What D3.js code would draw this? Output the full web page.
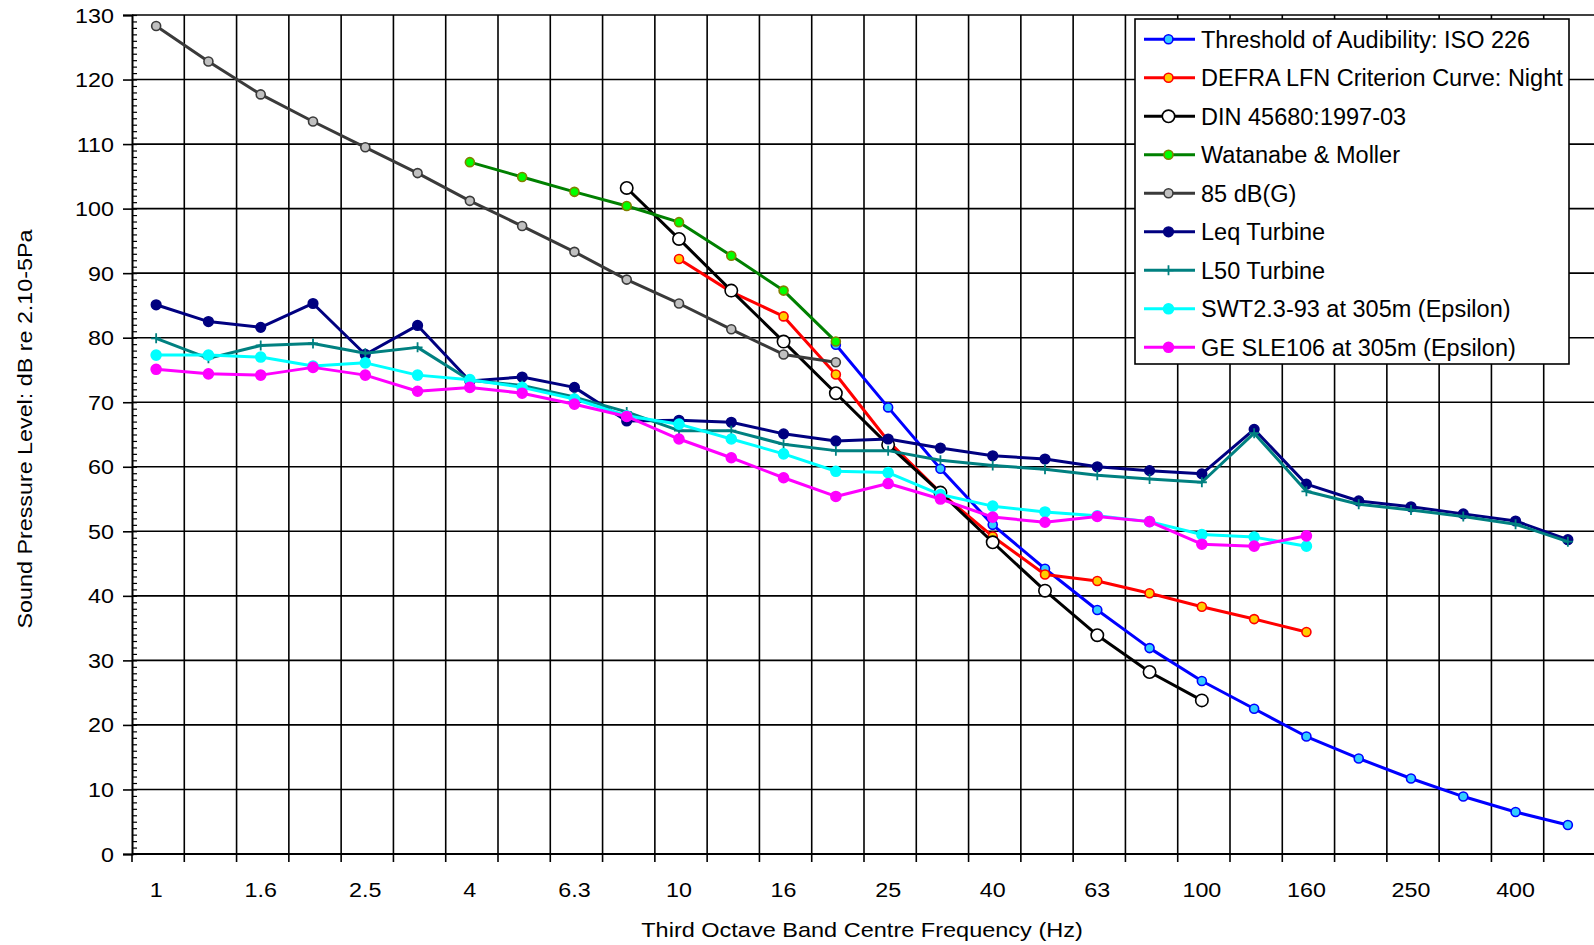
<!DOCTYPE html>
<html><head><meta charset="utf-8">
<script src="https://cdn.jsdelivr.net/npm/d3@7/dist/d3.min.js"></script>
<style>
html,body{margin:0;padding:0;background:#fff;}
svg{display:block;font-family:"Liberation Sans",Arial,sans-serif;}
</style></head><body>
<svg id="chart" width="1594" height="945"></svg>
<script>
const categories = ["1","1.25","1.6","2","2.5","3.15","4","5","6.3","8","10","12.5","16","20","25","31.5","40","50","63","80","100","125","160","200","250","315","400","500"];
const tickLabels = ["1","1.6","2.5","4","6.3","10","16","25","40","63","100","160","250","400"];
const yTicks = [0,10,20,30,40,50,60,70,80,90,100,110,120,130];
const _ = null;
const iso226   = [_,_,_,_,_,_,_,_,_,_,_,_,_,78.9,69.2,59.7,51.0,44.2,37.8,31.9,26.8,22.5,18.2,14.8,11.7,8.9,6.5,4.5];
const defra    = [_,_,_,_,_,_,_,_,_,_,92.2,87.1,83.3,74.3,64.0,56.0,49.2,43.3,42.3,40.4,38.3,36.4,34.4,_,_,_,_,_];
const din45680 = [_,_,_,_,_,_,_,_,_,103.2,95.3,87.3,79.4,71.4,63.4,56.0,48.3,40.8,33.9,28.2,23.8,_,_,_,_,_,_,_];
const watanabe = [_,_,_,_,_,_,107.2,104.9,102.6,100.4,97.9,92.7,87.3,79.4,_,_,_,_,_,_,_,_,_,_,_,_,_,_];
const dbg85    = [128.3,122.8,117.7,113.5,109.5,105.5,101.2,97.3,93.3,89.0,85.3,81.3,77.4,76.2,_,_,_,_,_,_,_,_,_,_,_,_,_,_];
const leq      = [85.1,82.5,81.6,85.3,77.4,81.9,73.3,73.9,72.3,67.1,67.2,66.9,65.1,64.0,64.3,62.9,61.7,61.2,60.0,59.4,58.9,65.8,57.3,54.7,53.8,52.7,51.6,48.7];
const l50      = [79.9,76.8,78.8,79.1,77.6,78.5,73.4,72.6,70.8,68.5,65.6,65.6,63.5,62.5,62.5,61.0,60.2,59.6,58.7,58.1,57.6,65.2,56.2,54.2,53.3,52.3,51.1,48.4];
const swt      = [77.3,77.3,77.0,75.6,76.1,74.2,73.5,72.3,70.5,67.9,66.6,64.3,62.0,59.3,59.1,55.7,53.9,53.0,52.4,51.5,49.5,49.1,47.7,_,_,_,_,_];
const ge       = [75.1,74.4,74.2,75.4,74.2,71.7,72.3,71.4,69.7,67.8,64.3,61.4,58.3,55.4,57.4,55.0,52.2,51.4,52.3,51.5,48.0,47.7,49.3,_,_,_,_,_];

const series = [
  {name:"Threshold of Audibility: ISO 226", data:iso226, line:"#0000FF", fill:"#33CCFF", stroke:"#0000FF", r:4.5, shape:"circle"},
  {name:"DEFRA LFN Criterion Curve: Night", data:defra, line:"#FF0000", fill:"#FFCC00", stroke:"#FF0000", r:4.5, shape:"circle"},
  {name:"DIN 45680:1997-03", data:din45680, line:"#000000", fill:"#FFFFFF", stroke:"#000000", r:6.2, shape:"circle"},
  {name:"Watanabe & Moller", data:watanabe, line:"#008000", fill:"#00FF00", stroke:"#808000", r:4.5, shape:"circle"},
  {name:"85 dB(G)", data:dbg85, line:"#3A3A3A", fill:"#C0C0C0", stroke:"#3A3A3A", r:4.5, shape:"circle"},
  {name:"Leq Turbine", data:leq, line:"#000080", fill:"#000080", stroke:"#000080", r:4.8, shape:"circle"},
  {name:"L50 Turbine", data:l50, line:"#008080", fill:"none", stroke:"#008080", r:5, shape:"plus"},
  {name:"SWT2.3-93 at 305m (Epsilon)", data:swt, line:"#00FFFF", fill:"#00FFFF", stroke:"#00FFFF", r:5, shape:"circle"},
  {name:"GE SLE106 at 305m (Epsilon)", data:ge, line:"#FF00FF", fill:"#FF00FF", stroke:"#FF00FF", r:5, shape:"circle"}
];

const svg = d3.select("#chart");
const pLeft = 132, pRight = 1596, pTop = 15, pBottom = 854;
const x = d3.scaleBand().domain(categories).range([pLeft, pRight]).padding(0);
const y = d3.scaleLinear().domain([0,130]).range([pBottom, pTop]);
const bw = x.bandwidth();
const cx = c => x(c) + bw/2 - 2;
const SX = 1.11; // horizontal text stretch seen in the reference

const g = svg.append("g");
g.selectAll("line.hg").data(yTicks).join("line")
  .attr("x1", pLeft).attr("x2", pRight).attr("y1", d=>y(d)).attr("y2", d=>y(d))
  .attr("stroke","#000").attr("stroke-width",1.6);
const bounds = categories.map(c=>x(c)).concat([pRight]);
g.selectAll("line.vg").data(bounds.slice(1)).join("line")
  .attr("x1", d=>d).attr("x2", d=>d).attr("y1", pTop).attr("y2", pBottom)
  .attr("stroke","#000").attr("stroke-width",1.6);

const yAxis = d3.axisLeft(y).tickValues(yTicks).tickSize(9).tickFormat("");
const ya = svg.append("g").attr("transform",`translate(${pLeft},0)`).call(yAxis);
ya.select(".domain").attr("stroke","#000").attr("stroke-width",2);
ya.selectAll(".tick line").attr("stroke","#000").attr("stroke-width",1.6);
svg.append("g").selectAll("text").data(yTicks).join("text")
  .attr("transform", d=>`translate(114,${y(d)+7.5}) scale(${SX},1)`)
  .attr("text-anchor","end").attr("font-size",21).attr("fill","#000").text(d=>d);
const yMinor = d3.axisRight(y).tickValues(d3.range(0,131,1)).tickSize(5).tickFormat("");
const ym = svg.append("g").attr("transform",`translate(${pLeft},0)`).call(yMinor);
ym.select(".domain").remove();
ym.selectAll(".tick line").attr("stroke","#000").attr("stroke-width",1.2);

const xa = svg.append("g").attr("transform",`translate(0,${pBottom})`);
xa.append("line").attr("x1",pLeft).attr("x2",pRight).attr("y1",0).attr("y2",0).attr("stroke","#000").attr("stroke-width",2);
xa.selectAll("line.t").data(bounds).join("line")
  .attr("x1",d=>d).attr("x2",d=>d).attr("y1",0).attr("y2",8).attr("stroke","#000").attr("stroke-width",1.6);
xa.selectAll("text").data(tickLabels).join("text")
  .attr("transform", d=>`translate(${cx(d)},43) scale(${SX},1)`).attr("text-anchor","middle")
  .attr("font-size",21).attr("fill","#000").text(d=>d);

svg.append("text").attr("transform",`translate(${(pLeft+pRight)/2 - 2},937) scale(1.12,1)`).attr("text-anchor","middle")
  .attr("font-size",21).attr("fill","#000").text("Third Octave Band Centre Frequency (Hz)");
svg.append("text").attr("transform","translate(32,429) rotate(-90) scale(1.11,1)").attr("text-anchor","middle")
  .attr("font-size",21).attr("fill","#000").text("Sound Pressure Level: dB re 2.10-5Pa");

const lineGen = d3.line().defined(d=>d.v!==null).x(d=>cx(d.c)).y(d=>y(d.v));
function drawMarker(sel, s, px, py){
  if(s.shape==="plus"){
    sel.append("path").attr("d",`M${px-s.r},${py}H${px+s.r}M${px},${py-s.r}V${py+s.r}`)
      .attr("stroke",s.stroke).attr("stroke-width",1.8).attr("fill","none");
  } else {
    sel.append("circle").attr("cx",px).attr("cy",py).attr("r",s.r)
      .attr("fill",s.fill).attr("stroke",s.stroke).attr("stroke-width",1.6);
  }
}
series.forEach(s=>{
  const pts = categories.map((c,i)=>({c, v:s.data[i]}));
  const sg = svg.append("g");
  sg.append("path").datum(pts).attr("d",lineGen).attr("fill","none")
    .attr("stroke",s.line).attr("stroke-width",3).attr("stroke-linejoin","round");
  pts.filter(d=>d.v!==null).forEach(d=>drawMarker(sg, s, cx(d.c), y(d.v)));
});

const lg = svg.append("g");
const lx = 1135, ly = 19, lw = 434, lh = 345, rowH = 38.5, row0 = 39.3;
lg.append("rect").attr("x",lx).attr("y",ly).attr("width",lw).attr("height",lh)
  .attr("fill","#fff").attr("stroke","#000").attr("stroke-width",1.6);
series.forEach((s,i)=>{
  const yy = row0 + i*rowH;
  const eg = lg.append("g");
  eg.append("line").attr("x1",1144).attr("x2",1195).attr("y1",yy).attr("y2",yy)
    .attr("stroke",s.line).attr("stroke-width",3);
  drawMarker(eg, s, 1168.5, yy);
  eg.append("text").attr("transform",`translate(1201,${yy+8.3}) scale(1.0,1)`).attr("font-size",23.5).attr("fill","#000").text(s.name);
});
</script>
</body></html>
